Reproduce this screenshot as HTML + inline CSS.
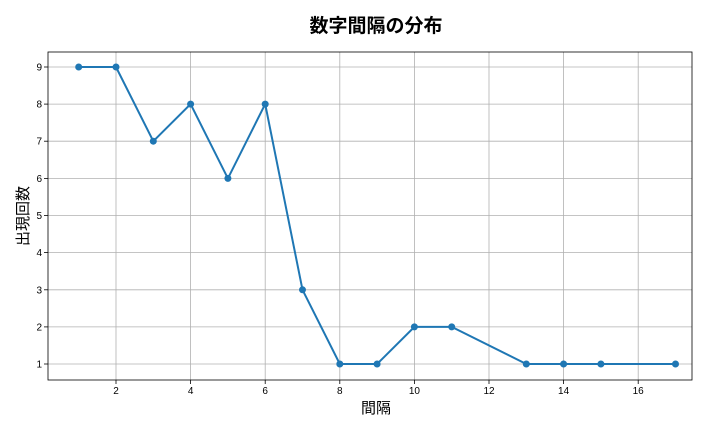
<!DOCTYPE html>
<html><head><meta charset="utf-8"><style>
body{margin:0;background:#fff;}
svg text{font-family:"Liberation Sans","Noto Sans CJK JP",sans-serif;}
</style></head><body>
<svg width="720" height="432" xmlns="http://www.w3.org/2000/svg">
<rect width="720" height="432" fill="#fff"/>
<g stroke="#b0b0b0" stroke-width="0.8">
<line x1="116" y1="52" x2="116" y2="380"/><line x1="190.6" y1="52" x2="190.6" y2="380"/>
<line x1="265.2" y1="52" x2="265.2" y2="380"/><line x1="339.8" y1="52" x2="339.8" y2="380"/>
<line x1="414.4" y1="52" x2="414.4" y2="380"/><line x1="489" y1="52" x2="489" y2="380"/>
<line x1="563.6" y1="52" x2="563.6" y2="380"/><line x1="638.2" y1="52" x2="638.2" y2="380"/>
<line x1="48" y1="67" x2="692" y2="67"/><line x1="48" y1="104.1" x2="692" y2="104.1"/>
<line x1="48" y1="141.2" x2="692" y2="141.2"/><line x1="48" y1="178.4" x2="692" y2="178.4"/>
<line x1="48" y1="215.5" x2="692" y2="215.5"/><line x1="48" y1="252.6" x2="692" y2="252.6"/>
<line x1="48" y1="289.8" x2="692" y2="289.8"/><line x1="48" y1="326.9" x2="692" y2="326.9"/>
<line x1="48" y1="364" x2="692" y2="364"/>
</g>
<rect x="48" y="52" width="644" height="328" fill="none" stroke="#000" stroke-width="0.8"/>
<g font-size="10" fill="#000" text-anchor="middle">
<text x="116" y="394">2</text><text x="190.6" y="394">4</text><text x="265.2" y="394">6</text>
<text x="339.8" y="394">8</text><text x="414.4" y="394">10</text><text x="489" y="394">12</text>
<text x="563.6" y="394">14</text><text x="638.2" y="394">16</text>
</g>
<g font-size="10" fill="#000" text-anchor="end">
<text x="42" y="70.5">9</text><text x="42" y="107.6">8</text><text x="42" y="144.7">7</text>
<text x="42" y="181.9">6</text><text x="42" y="219">5</text><text x="42" y="256.1">4</text>
<text x="42" y="293.3">3</text><text x="42" y="330.4">2</text><text x="42" y="367.5">1</text>
</g>
<g stroke="#000" stroke-width="0.8">
<line x1="116" y1="380" x2="116" y2="384"/><line x1="190.6" y1="380" x2="190.6" y2="384"/>
<line x1="265.2" y1="380" x2="265.2" y2="384"/><line x1="339.8" y1="380" x2="339.8" y2="384"/>
<line x1="414.4" y1="380" x2="414.4" y2="384"/><line x1="489" y1="380" x2="489" y2="384"/>
<line x1="563.6" y1="380" x2="563.6" y2="384"/><line x1="638.2" y1="380" x2="638.2" y2="384"/>
<line x1="44" y1="67" x2="48" y2="67"/><line x1="44" y1="104.1" x2="48" y2="104.1"/>
<line x1="44" y1="141.2" x2="48" y2="141.2"/><line x1="44" y1="178.4" x2="48" y2="178.4"/>
<line x1="44" y1="215.5" x2="48" y2="215.5"/><line x1="44" y1="252.6" x2="48" y2="252.6"/>
<line x1="44" y1="289.8" x2="48" y2="289.8"/><line x1="44" y1="326.9" x2="48" y2="326.9"/>
<line x1="44" y1="364" x2="48" y2="364"/>
</g>
<polyline fill="none" stroke="#1f77b4" stroke-width="2" points="78.7,67 116,67 153.3,141.2 190.6,104.1 227.9,178.4 265.2,104.1 302.5,289.8 339.8,364 377.1,364 414.4,326.9 451.7,326.9 526.3,364 563.6,364 600.9,364 675.5,364"/>
<g fill="#1f77b4">
<circle cx="78.7" cy="67" r="3.5"/><circle cx="116" cy="67" r="3.5"/><circle cx="153.3" cy="141.2" r="3.5"/>
<circle cx="190.6" cy="104.1" r="3.5"/><circle cx="227.9" cy="178.4" r="3.5"/><circle cx="265.2" cy="104.1" r="3.5"/>
<circle cx="302.5" cy="289.8" r="3.5"/><circle cx="339.8" cy="364" r="3.5"/><circle cx="377.1" cy="364" r="3.5"/>
<circle cx="414.4" cy="326.9" r="3.5"/><circle cx="451.7" cy="326.9" r="3.5"/><circle cx="526.3" cy="364" r="3.5"/>
<circle cx="563.6" cy="364" r="3.5"/><circle cx="600.9" cy="364" r="3.5"/><circle cx="675.5" cy="364" r="3.5"/>
</g>
<text x="376" y="32" font-size="19" text-anchor="middle" font-weight="bold">数字間隔の分布</text>
<text x="376" y="413" font-size="15" text-anchor="middle">間隔</text>
<text transform="translate(28,216) rotate(-90)" font-size="15" text-anchor="middle">出現回数</text>
</svg>
</body></html>
